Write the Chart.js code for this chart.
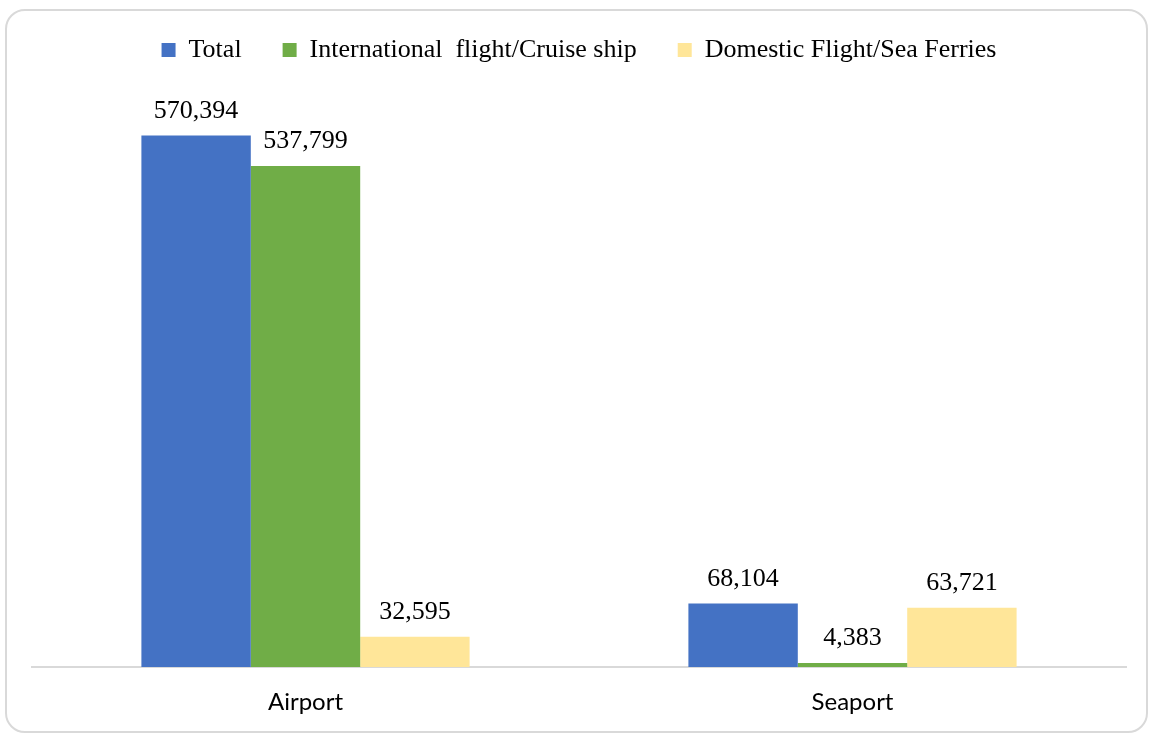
<!DOCTYPE html>
<html>
<head>
<meta charset="utf-8">
<script src="https://cdn.jsdelivr.net/npm/chart.js@4"></script>
<style>
  html, body { margin: 0; padding: 0; background: #fff; }
  #wrap { position: relative; width: 1152px; height: 733px; overflow: hidden; }
  #frame {
    position: absolute; left: 5px; top: 9px; width: 1143px; height: 724px;
    border: 2px solid #d9d9d9; border-radius: 20px; box-sizing: border-box;
  }
  #portChart { position: absolute; left: 0; top: 0; }
</style>
</head>
<body>
<div id="wrap">
  <div id="frame"></div>
  <canvas id="portChart" width="1152" height="733"></canvas>
</div>
<script>
const categories = ['Airport', 'Seaport'];
const totalValues = [570394, 68104];
const internationalValues = [537799, 4383];
const domesticValues = [32595, 63721];
const seriesNames = ['Total', 'International  flight/Cruise ship', 'Domestic Flight/Sea Ferries'];

// data labels above each bar
const barLabels = {
    id: 'barLabels',
    afterDatasetsDraw(chart) {
        const ctx = chart.ctx;
        ctx.save();
        ctx.font = '26px "Liberation Serif", "Times New Roman", serif';
        ctx.fillStyle = '#000';
        ctx.textAlign = 'center';
        ctx.textBaseline = 'alphabetic';
        chart.data.datasets.forEach((ds, i) => {
            chart.getDatasetMeta(i).data.forEach((bar, j) => {
                ctx.fillText(ds.data[j].toLocaleString('en-US'), bar.x, bar.y - 18);
            });
        });
        ctx.restore();
    }
};

// extra space under the legend
const legendGap = {
    id: 'legendGap',
    beforeInit(chart) {
        const origFit = chart.legend.fit;
        chart.legend.fit = function () {
            origFit.bind(chart.legend)();
            this.height += 35;
        };
    }
};

const ctx = document.getElementById('portChart').getContext('2d');
new Chart(ctx, {
    type: 'bar',
    data: {
        labels: categories,
        datasets: [
            { label: seriesNames[0], data: totalValues, backgroundColor: '#4472C4' },
            { label: seriesNames[1], data: internationalValues, backgroundColor: '#70AD47' },
            { label: seriesNames[2], data: domesticValues, backgroundColor: '#FFE699' }
        ]
    },
    options: {
        responsive: false,
        animation: false,
        devicePixelRatio: 1,
        layout: { padding: { left: 32, right: 26, top: -4, bottom: 0 } },
        datasets: { bar: { categoryPercentage: 0.6, barPercentage: 1.0 } },
        plugins: {
            tooltip: { enabled: false },
            legend: {
                position: 'top',
                labels: {
                    boxWidth: 14,
                    boxHeight: 14,
                    padding: 41,
                    color: '#000',
                    font: { family: '"Liberation Serif", "Times New Roman", serif', size: 26 }
                }
            }
        },
        scales: {
            x: {
                grid: { display: false },
                border: { color: '#d9d9d9', width: 2 },
                ticks: {
                    padding: 13,
                    color: '#000',
                    font: { family: 'Lato, sans-serif', size: 24 }
                },
                afterFit(scale) { scale.height = 66; }
            },
            y: {
                display: false,
                min: 0,
                max: 600000
            }
        }
    },
    plugins: [barLabels, legendGap]
});
</script>
</body>
</html>
